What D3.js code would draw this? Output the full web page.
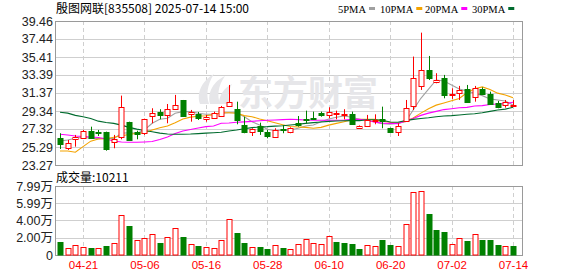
<!DOCTYPE html>
<html>
<head>
<meta charset="utf-8">
<script src="https://cdn.jsdelivr.net/npm/d3@7"></script>
<style>
  body { margin: 0; background: #fff; }
  svg { display: block; font-family: "Liberation Sans", Arial, sans-serif; }
</style>
</head>
<body>
<div class="canvas"></div>
<script>
// trading days
const dates = [
  "04-16", "04-17", "04-18", "04-21", "04-22", "04-23", "04-24", "04-25", "04-28", "04-29",
  "04-30", "05-06", "05-07", "05-08", "05-09", "05-12", "05-13", "05-14", "05-15", "05-16",
  "05-19", "05-20", "05-21", "05-22", "05-23", "05-26", "05-27", "05-28", "05-29", "05-30",
  "06-03", "06-04", "06-05", "06-06", "06-09", "06-10", "06-11", "06-12", "06-13", "06-16",
  "06-17", "06-18", "06-19", "06-20", "06-23", "06-24", "06-25", "06-26", "06-27", "06-30",
  "07-01", "07-02", "07-03", "07-04", "07-07", "07-08", "07-09", "07-10", "07-11", "07-14",
];
const dateTicks = ["04-21", "05-06", "05-16", "05-28", "06-10", "06-20", "07-02", "07-14"];

const opens = [
  26.27, 25.26, 26.16, 26.39, 27.13, 26.95, 27.02, 25.86, 26.34, 28.14,
  26.95, 26.84, 28.78, 29.2, 28.86, 29.65, 30.58, 29.04, 29.04, 28.45,
  28.64, 28.78, 29.83, 29.57, 27.77, 26.9, 27.66, 27.02, 26.39, 27.32,
  26.95, 28.03, 28.45, 28.59, 29.09, 28.9, 29.06, 28.97, 28.97, 27.4,
  27.66, 28.3, 28.45, 27.47, 27.02, 28.22, 29.91, 32.16, 33.96, 32.53,
  33.09, 31.2, 31.4, 31.82, 30.89, 31.82, 31.26, 30.21, 30.02, 30.02,
];
const highs = [
  26.84, 26.08, 26.65, 27.21, 27.58, 27.21, 27.02, 26.65, 31.07, 28.14,
  27.13, 28.48, 29.65, 29.54, 30.13, 31.15, 30.58, 29.46, 29.23, 28.9,
  29.27, 29.91, 32.27, 30.39, 28.7, 27.4, 28.03, 27.21, 27.4, 27.77,
  27.51, 28.78, 29.38, 29.27, 29.27, 29.76, 29.38, 29.54, 29.27, 27.72,
  28.9, 28.97, 29.83, 27.47, 27.96, 30.58, 35.46, 38.15, 35.53, 33.59,
  33.4, 31.9, 32.16, 32.27, 32.16, 32.0, 31.52, 30.47, 30.58, 30.58,
];
const lows = [
  25.07, 24.96, 25.33, 26.27, 26.27, 26.53, 24.88, 25.15, 26.16, 26.16,
  26.16, 26.65, 27.96, 28.41, 27.96, 29.65, 28.82, 28.14, 28.33, 28.14,
  28.64, 28.78, 29.83, 27.85, 26.84, 26.53, 26.65, 26.27, 26.39, 26.84,
  26.84, 27.58, 27.96, 28.41, 28.7, 28.52, 28.41, 28.41, 27.85, 27.4,
  27.58, 27.85, 27.4, 26.95, 26.53, 28.14, 29.46, 31.71, 32.83, 32.46,
  30.77, 30.7, 30.58, 30.32, 30.39, 31.15, 30.02, 29.65, 29.72, 29.96,
];
const closes = [
  25.6, 25.78, 26.39, 27.13, 26.39, 26.87, 25.15, 26.16, 29.76, 26.16,
  26.76, 28.41, 29.15, 28.86, 29.54, 30.05, 28.82, 29.27, 28.59, 28.62,
  29.15, 29.76, 30.32, 28.33, 27.02, 27.29, 27.1, 26.57, 27.21, 27.19,
  27.4, 27.77, 28.37, 28.48, 28.82, 29.27, 29.12, 29.01, 27.85, 27.66,
  28.33, 28.35, 28.22, 27.02, 27.66, 29.72, 33.02, 33.96, 33.02, 32.8,
  31.22, 31.24, 31.71, 30.32, 31.9, 31.22, 30.13, 29.72, 30.32, 30.02,
];
const volumes = [
  15400, 8100, 11200, 8900, 8100, 8100, 10400, 13500, 46300, 33600,
  17400, 19300, 24300, 14300, 20500, 30900, 20900, 12700, 10400, 9300,
  8100, 17400, 41300, 25900, 14300, 9300, 9300, 7000, 11200, 8100,
  6600, 12700, 18500, 13500, 12700, 22000, 15400, 14300, 13100, 7300,
  11200, 10400, 17400, 11600, 10400, 35900, 73000, 74200, 47900, 29000,
  27000, 12700, 19700, 16600, 24300, 17400, 17400, 11600, 10400, 10211,
];

// moving averages as drawn on the chart
const ma5 = [
  25.97, 26.08, 26.27, 26.39, 26.27, 26.23, 26.27, 26.23, 26.84, 26.9,
  26.84, 27.21, 27.96, 28.41, 28.52, 29.09, 29.27, 29.27, 29.09, 28.97,
  28.97, 29.09, 29.15, 29.15, 28.7, 28.14, 27.77, 27.29, 27.13, 27.21,
  27.21, 27.4, 27.66, 27.77, 28.14, 28.45, 28.64, 28.78, 28.64, 28.41,
  28.3, 28.1, 27.92, 27.85, 27.96, 28.14, 29.46, 30.77, 31.79, 32.83,
  32.72, 32.27, 31.82, 31.59, 31.33, 31.07, 30.7, 30.58, 30.47, 30.02,
];
const ma10 = [
  24.85, 24.85, 24.7, 25.33, 25.95, 26.2, 26.23, 26.39, 26.55, 26.7,
  26.84, 26.9, 27.2, 27.45, 27.65, 28.03, 28.45, 28.65, 28.75, 28.8,
  28.93, 29.15, 29.15, 29.09, 28.82, 28.7, 28.45, 28.25, 28.03, 27.8,
  27.6, 27.55, 27.5, 27.4, 27.5, 27.75, 27.95, 28.14, 28.35, 28.41,
  28.41, 28.41, 28.2, 28.07, 27.96, 28.2, 28.55, 29.1, 29.6, 30.0,
  30.25, 30.5, 30.75, 31.4, 31.85, 32.05, 31.75, 31.35, 31.15, 30.84,
];
const ma20 = [
  26.72, 26.64, 26.53, 26.48, 26.42, 26.36, 26.19, 25.97, 25.86, 25.82,
  25.82, 25.86, 25.91, 26.14, 26.42, 26.81, 27.1, 27.26, 27.43, 27.58,
  27.66, 27.96, 28.0, 28.07, 28.12, 28.18, 28.25, 28.3, 28.33, 28.37,
  28.41, 28.37, 28.33, 28.3, 28.3, 28.3, 28.3, 28.33, 28.4, 28.41,
  28.3, 28.07, 27.98, 27.95, 27.92, 28.22, 28.5, 28.85, 29.1, 29.3,
  29.5, 29.6, 29.7, 29.75, 29.9, 29.95, 30.08, 30.12, 30.17, 30.32,
];
const ma30 = [
  29.2, 29.1, 28.85, 28.7, 28.5, 28.2, 28.05, 27.95, 27.75, 27.5,
  27.3, 27.15, 27.0, 26.85, 26.75, 26.72, 26.72, 26.75, 26.8, 26.85,
  26.9, 26.95, 27.1, 27.21, 27.35, 27.47, 27.55, 27.58, 27.64, 27.69,
  27.77, 27.85, 27.95, 28.03, 28.1, 28.18, 28.22, 28.24, 28.26, 28.26,
  28.35, 28.35, 28.3, 28.1, 28.07, 28.26, 28.4, 28.5, 28.59, 28.7,
  28.78, 28.82, 28.9, 28.98, 29.04, 29.15, 29.3, 29.45, 29.55, 29.76,
];

const priceTicks = [23.27, 25.29, 27.32, 29.34, 31.37, 33.39, 35.41, 37.44, 39.46];
const volTicks = [0, 20000, 40000, 59900, 79900];
const volTickLabels = ["0", "2.00万", "4.00万", "5.99万", "7.99万"];

const legendLabels = ["5PMA", "10PMA", "20PMA", "30PMA"];
const title = "殷图网联[835508] 2025-07-14 15:00";

// layout
const width = 578;
const height = 276;
const main = { left: 55, right: 522, top: 21, bottom: 165 };
const vol = { left: 55, right: 522, top: 186, bottom: 255 };
const maColors = ["#a0a0a0", "#f4a300", "#ff00ff", "#006b2e"];
const upColor = "#ff0000";
const downColor = "#008000";

const svg = d3
  .select(".canvas")
  .append("svg")
  .attr("width", width)
  .attr("height", height);

// scales
const x = d3.scalePoint().domain(dates).range([60, 513]);
const y = d3.scaleLinear().domain([23.27, 39.46]).range([main.bottom, main.top]);
const yVol = d3.scaleLinear().domain([0, 79900]).range([vol.bottom, vol.top]);

// grids
const drawGrid = (box, scale, ticks) => {
  const g = svg.append("g");
  g.selectAll(".h")
    .data(ticks)
    .enter()
    .append("line")
    .attr("x1", box.left)
    .attr("x2", box.right)
    .attr("y1", (d) => Math.round(scale(d)) + 0.5)
    .attr("y2", (d) => Math.round(scale(d)) + 0.5)
    .attr("stroke", "#cfcfcf");
  g.selectAll(".v")
    .data(dateTicks)
    .enter()
    .append("line")
    .attr("x1", (d) => Math.round(x(d)) + 0.5)
    .attr("x2", (d) => Math.round(x(d)) + 0.5)
    .attr("y1", box.top)
    .attr("y2", box.bottom)
    .attr("stroke", "#cfcfcf")
    .attr("stroke-dasharray", "4,3");
  g.append("rect")
    .attr("x", box.left + 0.5)
    .attr("y", box.top + 0.5)
    .attr("width", box.right - box.left)
    .attr("height", box.bottom - box.top)
    .attr("fill", "none")
    .attr("stroke", "#9a9a9a");
};
drawGrid(main, y, priceTicks);
drawGrid(vol, yVol, volTicks);

// watermark
const wm = svg.append("g").attr("fill", "#e6e6e9");
wm.append("path").attr("d", "M200,104 C196,92 203,80 214,74 C207,85 206,95 209,104 Z");
wm.append("path").attr("d", "M210,104 C207,92 214,81 225,76 C218,86 217,95 220,104 Z");
wm.append("path").attr("d", "M219,104 C219,95 224,88 232,84 C228,91 228,97 230,104 Z");
wm.append("text")
  .attr("x", 238)
  .attr("y", 106)
  .attr("font-size", 35)
  .attr("font-weight", "bold")
  .attr("font-family", "Noto Sans CJK SC")
  .attr("letter-spacing", 0)
  .text("东方财富");

// moving average lines
const line = d3
  .line()
  .x((d, i) => x(dates[i]))
  .y((d) => y(d));
[ma5, ma10, ma20, ma30].forEach((series, k) => {
  svg.append("path")
    .datum(series)
    .attr("fill", "none")
    .attr("stroke", maColors[k])
    .attr("stroke-width", 1.1)
    .attr("d", line);
});

// candles
const candles = dates.map((d, i) => ({
  date: d,
  open: opens[i],
  high: highs[i],
  low: lows[i],
  close: closes[i],
  volume: volumes[i],
  up: closes[i] >= opens[i],
  volUp: i === 0 ? closes[i] >= opens[i] : closes[i] >= closes[i - 1],
}));

const candleG = svg.append("g");
const cg = candleG.selectAll("g").data(candles).enter().append("g");
cg.append("line")
  .attr("x1", (d) => Math.round(x(d.date)) + 0.5)
  .attr("x2", (d) => Math.round(x(d.date)) + 0.5)
  .attr("y1", (d) => y(d.high))
  .attr("y2", (d) => y(d.low))
  .attr("stroke", (d) => (d.up ? upColor : downColor));
cg.append("rect")
  .attr("x", (d) => Math.round(x(d.date)) - 2)
  .attr("y", (d) => Math.round(y(Math.max(d.open, d.close))) + 0.5)
  .attr("width", 5)
  .attr("height", (d) => Math.max(1, Math.round(Math.abs(y(d.open) - y(d.close)))))
  .attr("fill", (d) => (d.up ? "#fff" : downColor))
  .attr("stroke", (d) => (d.up ? upColor : downColor));

// volume bars
svg.append("g")
  .selectAll("rect")
  .data(candles)
  .enter()
  .append("rect")
  .attr("x", (d) => Math.round(x(d.date)) - 2)
  .attr("y", (d) => Math.round(yVol(d.volume)) + 0.5)
  .attr("width", 5)
  .attr("height", (d) => vol.bottom - Math.round(yVol(d.volume)) - 0.5)
  .attr("fill", (d) => (d.volUp ? "#fff" : downColor))
  .attr("stroke", (d) => (d.volUp ? upColor : downColor));

// axes
const yAxis = d3.axisLeft(y).tickValues(priceTicks).tickSize(0).tickPadding(2).tickFormat(d3.format(".2f"));
const yAxisGroup = svg.append("g").attr("transform", `translate(${main.left}, 0)`).call(yAxis);
const volAxis = d3.axisLeft(yVol).tickValues(volTicks).tickSize(0).tickPadding(2)
  .tickFormat((d, i) => volTickLabels[i]);
const volAxisGroup = svg.append("g").attr("transform", `translate(${vol.left}, 0)`).call(volAxis);
[yAxisGroup, volAxisGroup].forEach((g) => {
  g.select(".domain").remove();
  g.selectAll("text")
    .attr("fill", "#222")
    .attr("font-size", 12.5)
    .attr("font-family", "'Liberation Sans', 'Noto Sans CJK SC', sans-serif");
});

const xAxis = d3.axisBottom(x).tickValues(dateTicks).tickSize(0).tickPadding(6);
const xAxisGroup = svg.append("g").attr("transform", `translate(0, ${vol.bottom})`).call(xAxis);
xAxisGroup.select(".domain").remove();
xAxisGroup.selectAll("text")
  .attr("fill", "#ff0000")
  .attr("font-size", 11.5)
  .attr("font-family", "'Liberation Sans', sans-serif");

// title + legend
svg.append("text")
  .attr("x", 56)
  .attr("y", 13)
  .attr("font-size", 12)
  .attr("font-family", "'Noto Sans CJK SC', sans-serif")
  .attr("fill", "#000")
  .text(title);

const legendX = [338, 380, 425, 472];
const legend = svg.append("g");
legendLabels.forEach((label, k) => {
  const t = legend.append("text")
    .attr("x", legendX[k])
    .attr("y", 12.5)
    .attr("font-size", 10.5)
    .attr("font-family", "'Liberation Serif', serif")
    .attr("fill", "#000")
    .text(label);
  const w = t.node().getComputedTextLength();
  legend.append("rect")
    .attr("x", legendX[k] + w + 3)
    .attr("y", 7)
    .attr("width", 6)
    .attr("height", 3)
    .attr("fill", maColors[k]);
});

svg.append("text")
  .attr("x", 56)
  .attr("y", 182)
  .attr("font-size", 12)
  .attr("font-family", "'Noto Sans CJK SC', sans-serif")
  .attr("fill", "#000")
  .text("成交量:" + volumes[volumes.length - 1]);
</script>
</body>
</html>
